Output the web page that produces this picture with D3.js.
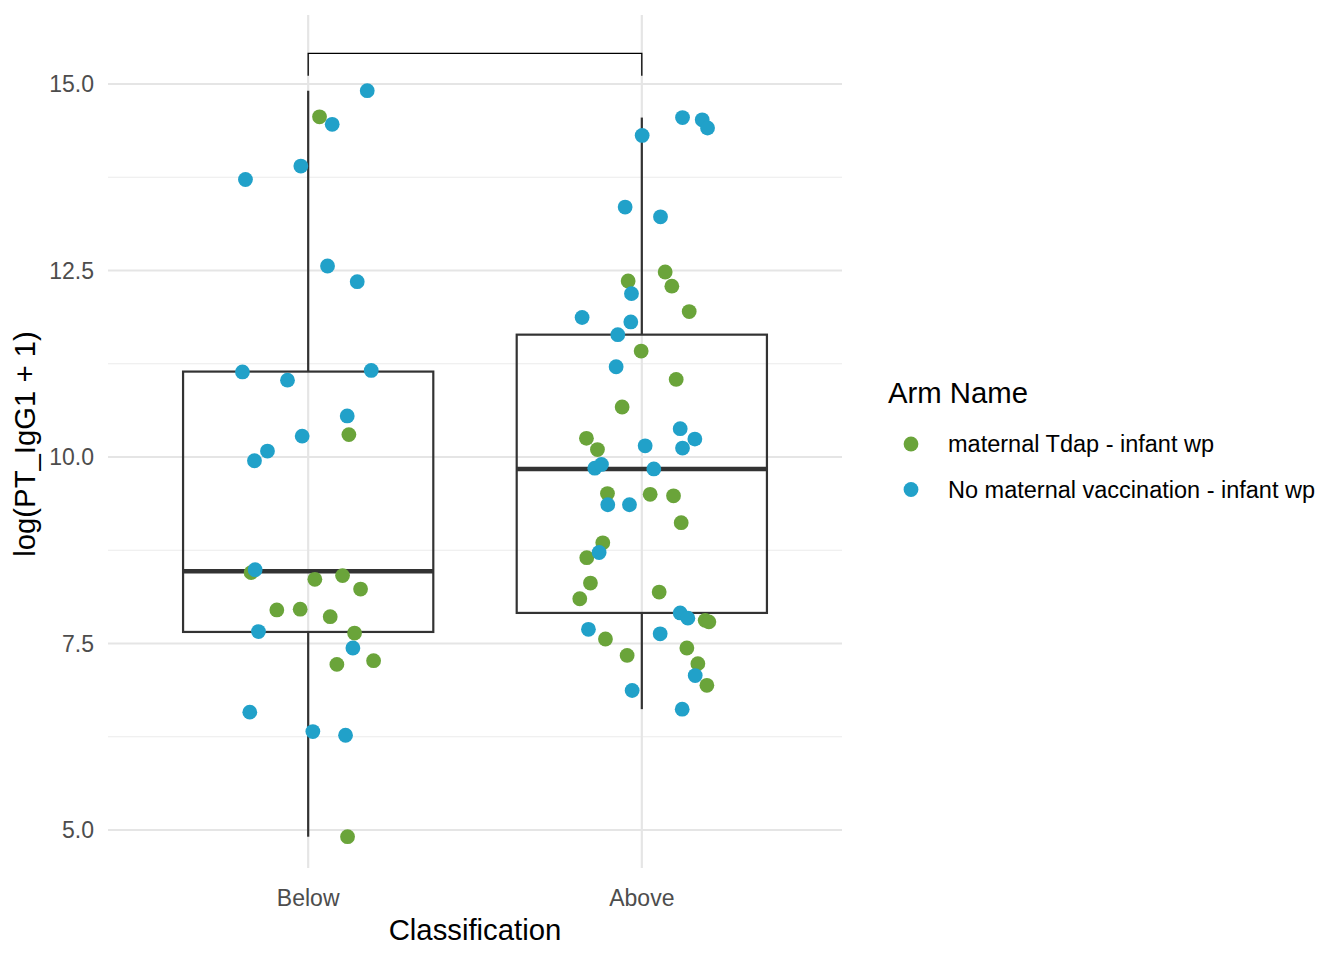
<!DOCTYPE html>
<html>
<head>
<meta charset="utf-8">
<script src="https://cdn.jsdelivr.net/npm/d3@7"></script>
<style>
  body { margin: 0; background: #fff; }
  text { font-family: "Liberation Sans", Arial, sans-serif; }
</style>
</head>
<body>
<div id="chart"></div>
<script>
// categories and legend
var categories = ["Below", "Above"];
var arms = ["maternal Tdap - infant wp", "No maternal vaccination - infant wp"];
var armColors = ["#6aa43a", "#21a1c9"];
var yTicks = [5.0, 7.5, 10.0, 12.5, 15.0];

// values, jitter is the horizontal offset in category units
var belowTdap = [14.56, 10.30, 8.45, 8.36, 8.41, 8.23, 7.95, 7.96, 7.86, 7.64, 7.22, 7.27, 4.91];
var belowTdapJitter = [0.034, 0.122, -0.171, 0.020, 0.103, 0.157, -0.094, -0.024, 0.066, 0.139, 0.086, 0.196, 0.118];
var belowNone = [14.91, 14.46, 13.90, 13.72, 12.56, 12.35, 11.14, 11.03, 11.16, 10.55, 10.28, 10.08, 9.95, 8.49, 7.66, 7.44, 6.58, 6.32, 6.27];
var belowNoneJitter = [0.177, 0.072, -0.022, -0.188, 0.058, 0.147, -0.197, -0.062, 0.189, 0.117, -0.018, -0.122, -0.161, -0.159, -0.149, 0.134, -0.175, 0.014, 0.112];
var aboveTdap = [12.48, 12.36, 12.29, 11.95, 11.42, 11.04, 10.67, 10.25, 10.10, 9.51, 9.50, 9.48, 9.12, 8.85, 8.65, 8.31, 8.19, 8.10, 7.81, 7.79, 7.56, 7.44, 7.34, 7.23, 6.94];
var aboveTdapJitter = [0.070, -0.041, 0.090, 0.142, -0.002, 0.103, -0.059, -0.166, -0.133, -0.103, 0.025, 0.095, 0.118, -0.117, -0.165, -0.154, 0.052, -0.186, 0.190, 0.201, -0.109, 0.135, -0.044, 0.168, 0.195];
var aboveNone = [14.55, 14.52, 14.41, 14.31, 13.35, 13.22, 12.19, 11.87, 11.81, 11.64, 11.21, 10.38, 10.24, 10.15, 10.12, 9.85, 9.90, 9.84, 9.36, 9.36, 8.72, 7.91, 7.84, 7.69, 7.63, 7.07, 6.87, 6.62];
var aboveNoneJitter = [0.122, 0.181, 0.197, 0.001, -0.050, 0.056, -0.031, -0.179, -0.033, -0.072, -0.077, 0.115, 0.159, 0.010, 0.122, -0.141, -0.121, 0.036, -0.102, -0.037, -0.128, 0.115, 0.138, -0.160, 0.055, 0.160, -0.029, 0.121];

var width = 1344, height = 960;
var panel = { left: 108, right: 842, top: 15, bottom: 868 };

var x = d3.scaleLinear().domain([0.4, 2.6]).range([panel.left, panel.right]);
var y = d3.scaleLinear().domain([5, 15]).range([830, 84]);

var svg = d3.select("#chart").append("svg")
    .attr("width", width)
    .attr("height", height);

// grid
var minor = [6.25, 8.75, 11.25, 13.75];
svg.selectAll(".gminor").data(minor).enter().append("line")
    .attr("x1", panel.left).attr("x2", panel.right)
    .attr("y1", d => y(d)).attr("y2", d => y(d))
    .attr("stroke", "#ebebeb").attr("stroke-width", 1.1);
svg.selectAll(".gmajor").data(yTicks).enter().append("line")
    .attr("x1", panel.left).attr("x2", panel.right)
    .attr("y1", d => y(d)).attr("y2", d => y(d))
    .attr("stroke", "#e5e5e5").attr("stroke-width", 2.2);
svg.selectAll(".gx").data(categories).enter().append("line")
    .attr("x1", (d, i) => x(i + 1)).attr("x2", (d, i) => x(i + 1))
    .attr("y1", panel.top).attr("y2", panel.bottom)
    .attr("stroke", "#e5e5e5").attr("stroke-width", 2.2);

// box stats per category
var groups = [belowTdap.concat(belowNone), aboveTdap.concat(aboveNone)];
var stats = groups.map(function (vals, i) {
    var s = vals.slice().sort(d3.ascending);
    var q1 = d3.quantile(s, 0.25), med = d3.quantile(s, 0.5), q3 = d3.quantile(s, 0.75);
    var iqr = q3 - q1;
    var lo = d3.min(s.filter(v => v >= q1 - 1.5 * iqr));
    var hi = d3.max(s.filter(v => v <= q3 + 1.5 * iqr));
    return { pos: i + 1, q1: q1, med: med, q3: q3, lo: lo, hi: hi };
});

var boxHalf = 0.375;
var bx = svg.selectAll(".box").data(stats).enter().append("g");
bx.append("line")
    .attr("x1", d => x(d.pos)).attr("x2", d => x(d.pos))
    .attr("y1", d => y(d.q3)).attr("y2", d => y(d.hi))
    .attr("stroke", "#333").attr("stroke-width", 2.2);
bx.append("line")
    .attr("x1", d => x(d.pos)).attr("x2", d => x(d.pos))
    .attr("y1", d => y(d.q1)).attr("y2", d => y(d.lo))
    .attr("stroke", "#333").attr("stroke-width", 2.2);
bx.append("rect")
    .attr("x", d => x(d.pos - boxHalf))
    .attr("width", d => x(d.pos + boxHalf) - x(d.pos - boxHalf))
    .attr("y", d => y(d.q3))
    .attr("height", d => y(d.q1) - y(d.q3))
    .attr("fill", "none").attr("stroke", "#333").attr("stroke-width", 2.2);
bx.append("line")
    .attr("x1", d => x(d.pos - boxHalf)).attr("x2", d => x(d.pos + boxHalf))
    .attr("y1", d => y(d.med)).attr("y2", d => y(d.med))
    .attr("stroke", "#333").attr("stroke-width", 4.5);

// points
var pts = [];
function addPts(vals, jit, pos, arm) {
    vals.forEach(function (v, i) { pts.push({ v: v, x: pos + jit[i], arm: arm }); });
}
addPts(belowTdap, belowTdapJitter, 1, 0);
addPts(aboveTdap, aboveTdapJitter, 2, 0);
addPts(belowNone, belowNoneJitter, 1, 1);
addPts(aboveNone, aboveNoneJitter, 2, 1);

svg.selectAll(".pt").data(pts).enter().append("circle")
    .attr("cx", d => x(d.x))
    .attr("cy", d => y(d.v))
    .attr("r", 7.4)
    .attr("fill", d => armColors[d.arm]);

// comparison bracket
var brTop = 15.41, brBot = 15.11;
svg.append("path")
    .attr("d", d3.line()([[x(1), y(brBot)], [x(1), y(brTop)], [x(2), y(brTop)], [x(2), y(brBot)]]))
    .attr("fill", "none").attr("stroke", "#000").attr("stroke-width", 1.3);

// axes labels
svg.selectAll(".ytick").data(yTicks).enter().append("text")
    .attr("x", 94).attr("y", d => y(d)).attr("dy", "0.36em")
    .attr("text-anchor", "end")
    .attr("fill", "#4d4d4d").style("font-size", "23px")
    .text(d => d.toFixed(1));
svg.selectAll(".xtick").data(categories).enter().append("text")
    .attr("x", (d, i) => x(i + 1)).attr("y", 906)
    .attr("text-anchor", "middle")
    .attr("fill", "#4d4d4d").style("font-size", "23px")
    .text(d => d);

svg.append("text")
    .attr("x", (panel.left + panel.right) / 2).attr("y", 940)
    .attr("text-anchor", "middle").style("font-size", "29.3px")
    .text("Classification");
svg.append("text")
    .attr("transform", "translate(35,444) rotate(-90)")
    .attr("text-anchor", "middle").style("font-size", "29.3px")
    .text("log(PT_IgG1 + 1)");

// legend
var lg = svg.append("g").attr("transform", "translate(888,0)");
lg.append("text").attr("x", 0).attr("y", 403).style("font-size", "29.3px").text("Arm Name");
var li = lg.selectAll(".li").data(arms).enter().append("g")
    .attr("transform", (d, i) => "translate(0," + (444 + i * 45.5) + ")");
li.append("circle").attr("cx", 23).attr("cy", 0).attr("r", 7.4).attr("fill", (d, i) => armColors[i]);
li.append("text").attr("x", 60).attr("y", 0).attr("dy", "0.36em")
    .style("font-size", "23.5px").text(d => d);
</script>
</body>
</html>
